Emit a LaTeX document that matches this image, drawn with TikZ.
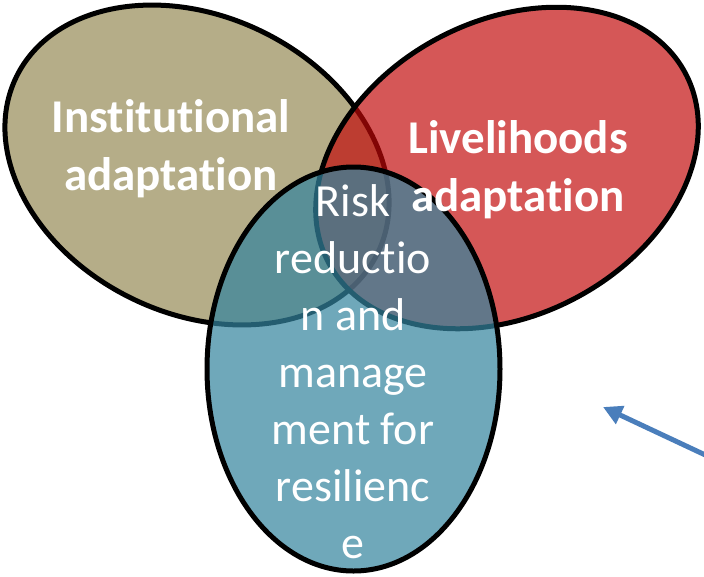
\documentclass[tikz,border=0pt]{standalone}
\usepackage{fontspec}
\setmainfont{Carlito}[Ligatures=NoCommon]
\usetikzlibrary{arrows.meta}
\definecolor{tanc}{RGB}{181,173,136}
\definecolor{redc}{RGB}{193,8,8}
\definecolor{bluec}{RGB}{52,132,158}
\definecolor{arrowc}{RGB}{74,126,187}
\tikzset{
  ring/.style={draw=black, line width=5pt},
  biglabel/.style={text=white, font=\fontsize{47}{57.5}\selectfont\bfseries, align=center, inner sep=0pt},
  smalllabel/.style={text=white, font=\fontsize{46}{57}\selectfont, align=center, inner sep=0pt},
  pointer/.style={draw=arrowc, line width=5pt, -{Triangle[length=19pt,width=19pt]}}
}
\begin{document}
\begin{tikzpicture}[x=1pt,y=-1pt]
\useasboundingbox (0,0) rectangle (704,576);
% institutional
\draw[ring, fill=tanc, shift={(197,165)}, rotate=-26] (0,0) ellipse [x radius=201pt, y radius=148.5pt];
% livelihoods
\draw[ring, fill=redc, fill opacity=0.68, shift={(507,168)}, rotate=28] (0,0) ellipse [x radius=202pt, y radius=147pt];
% risk
\draw[ring, fill=bluec, fill opacity=0.71, shift={(353.5,369)}] (0,0) ellipse [x radius=146.5pt, y radius=202pt];
% labels (anchor = baseline of last line)
\node[biglabel, anchor=base] (inst) at (171,190) {Institutional\\adaptation};
\node[biglabel, anchor=base] (live) at (518,211) {Livelihoods\\adaptation};
\node[smalllabel, anchor=base] (risk) at (353,558) {Risk\\reductio\\n and\\manage\\ment for\\resilienc\\e};
% arrow
\coordinate (arrstart) at (716,460);
\coordinate (arrtip) at (603,407);
\draw[pointer] (arrstart) -- (arrtip);
\end{tikzpicture}
\end{document}
